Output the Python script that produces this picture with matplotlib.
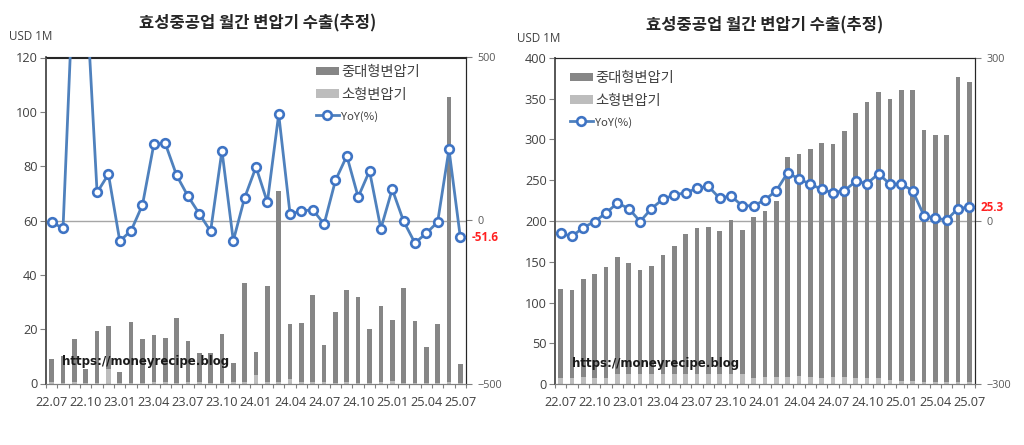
import matplotlib
matplotlib.use("Agg")
import matplotlib.pyplot as plt
import numpy as np

plt.rcParams['font.family'] = ['Noto Sans CJK KR', 'DejaVu Sans']

W, H = 1024, 445

# months 22.07 ~ 25.07
months = ['22.07', '22.08', '22.09', '22.10', '22.11', '22.12', '23.01', '23.02', '23.03', '23.04',
          '23.05', '23.06', '23.07', '23.08', '23.09', '23.10', '23.11', '23.12', '24.01', '24.02',
          '24.03', '24.04', '24.05', '24.06', '24.07', '24.08', '24.09', '24.10', '24.11', '24.12',
          '25.01', '25.02', '25.03', '25.04', '25.05', '25.06', '25.07']

# left chart: monthly export, total bar height and small transformer part
left_total = [9, 10, 16.5, 5.5, 19.5, 21.3, 4.3, 22.5, 16.5, 17.7, 16.8, 24, 15.5, 11.2, 11.2, 18.3, 7.7, 37, 11.7,
              36, 70.7, 22, 22.2, 32.5, 14, 26.3, 34.5, 32, 20, 28.5, 23.3, 35.3, 23, 13.5, 22, 105.5, 7]
left_small = [0.5, 0.3, 0.7, 0.3, 0.3, 5.5, 0.3, 0.3, 0.3, 0.7, 0.5, 0.3, 0.7, 0.7, 0.3, 0.3, 0.5, 0.5, 3,
              0.5, 0.5, 1.5, 0.5, 0.5, 0.5, 0.3, 0.5, 0.3, 0.3, 0.5, 1, 0.3, 0.3, 0.3, 0.3, 0.5, 0.3]
left_yoy = [-5, -24, 810, 727, 86, 142, -63, -31, 48, 234, 237, 139, 75, 21, -33, 214, -62, 70, 164,
            56, 326, 20, 29, 33, -11, 123, 198, 72, 152, -25, 96, -2, -69, -39, -5, 218, -51.6]

# right chart: trailing total
right_total = [117, 115, 129, 135, 144, 156, 149, 140, 145, 158, 169, 184, 191, 193, 188, 201, 189, 205, 212,
               225, 279, 282, 288, 296, 295, 310, 333, 346, 358, 350, 361, 361, 312, 305, 305, 377, 370]
right_small = [7, 7, 8, 7, 7, 12, 12, 12, 12, 12, 12, 12, 12, 12, 12, 12, 12, 7, 9,
               8, 8, 10, 8, 7, 8, 8, 7, 7, 7, 5, 4, 4, 3, 3, 3, 3, 3]
right_yoy = [-23, -28, -12, -1, 15, 33, 23, -1, 23, 40, 48, 52, 60, 64, 42, 46, 28, 28, 39,
             56, 89, 77, 68, 58, 52, 56, 73, 69, 87, 68, 68, 56, 10, 5, 2, 23, 25.3]

title = '효성중공업 월간 변압기 수출(추정)'
names = ['중대형변압기', '소형변압기', 'YoY(%)']
url = 'https://moneyrecipe.blog'

DARK = '#868686'
LIGHT = '#bdbdbd'
BLUE = '#4f81bd'
EDGE = '#3f74c4'
TEXT = '#404040'


def draw(box, total, small, yoy, ymax, ystep, y2max, grid_y, value_xy, legend_xy, url_xy, title_xy, usd_xy):
    x0, y0, x1, y1 = box
    ax = fig.add_axes([x0 / W, 1 - y1 / H, (x1 - x0) / W, (y1 - y0) / H])
    x = np.arange(len(months))
    total = np.array(total)
    small = np.array(small)

    ax.axhline(grid_y, color='#a6a6a6', lw=1, zorder=1)
    b1 = ax.bar(x, total - small, 0.41, bottom=small, color=DARK, zorder=2)
    b2 = ax.bar(x, small, 0.41, color=LIGHT, zorder=2)
    ax.set_xlim(-0.5, len(months) - 0.5)
    ax.set_ylim(0, ymax)
    ax.set_yticks(np.arange(0, ymax + 1, ystep))
    ax.set_xticks(x[::3])
    ax.set_xticklabels(months[::3])
    ax.set_xticks(np.arange(-0.5, len(months)), minor=True)
    ax.tick_params(axis='x', which='major', length=0, pad=9, labelsize=9.2, labelcolor=TEXT)
    ax.tick_params(axis='x', which='minor', length=3, width=0.8, color='#808080')
    ax.tick_params(axis='y', length=4, width=0.8, color='#808080', labelsize=9.2, labelcolor=TEXT, pad=2)
    for lab in ax.get_xticklabels() + ax.get_yticklabels():
        lab.set_family('Open Sans')

    ax2 = ax.twinx()
    ln, = ax2.plot(x, yoy, color=BLUE, lw=2, marker='o', ms=6.2, mfc='white', mec=EDGE, mew=1.9, zorder=3)
    ax2.set_ylim(-y2max, y2max)
    ax2.set_yticks([-y2max, 0, y2max])
    ax2.tick_params(axis='y', length=4, width=0.8, color='#808080', labelsize=7.8, labelcolor='#595959', pad=4)
    for lab in ax2.get_yticklabels():
        lab.set_family('Open Sans')

    for a in (ax, ax2):
        a.spines['top'].set_color('#262626')
        a.spines['right'].set_color('#262626')
        a.spines['left'].set_color('#595959')
        a.spines['left'].set_linewidth(1.3)
        a.spines['bottom'].set_color('#808080')

    leg = ax2.legend([b1, b2, ln], names, loc='upper left', frameon=False,
                     bbox_to_anchor=(legend_xy[0] / W, 1 - legend_xy[1] / H),
                     bbox_transform=fig.transFigure, fontsize=10.3, handlelength=1.6, handleheight=0.55,
                     handletextpad=0.15, labelspacing=0.62, borderpad=0, borderaxespad=0)
    leg.get_texts()[2].set_fontsize(8.2)
    for t in leg.get_texts():
        t.set_color(TEXT)

    lab = f'{yoy[-1]:.1f}'
    ax2.annotate(lab, (x[-1], yoy[-1]), xytext=value_xy, textcoords='offset pixels', color='#ff2020',
                 fontsize=8.4, fontweight='bold', family='Open Sans', va='center', ha='left',
                 annotation_clip=False)

    fig.text(url_xy[0] / W, 1 - url_xy[1] / H, url, family='DejaVu Sans', fontweight='bold', fontsize=8.5,
             color='#1a1a1a', va='center', ha='left', zorder=10)
    fig.text(title_xy[0] / W, 1 - title_xy[1] / H, title, fontsize=11.9, fontweight='bold', color='#262626',
             ha='center', va='center')
    fig.text(usd_xy[0] / W, 1 - usd_xy[1] / H, 'USD 1M', family='Open Sans', fontsize=8.4, color=TEXT,
             ha='left', va='center')


fig = plt.figure(figsize=(W / 100, H / 100), dpi=100, facecolor='white')

draw((46, 57.5, 466, 383.5), left_total, left_small, left_yoy, 120, 20, 500, 60,
     (11, 0), (316, 65), (62, 361), (257.5, 23), (9, 37))
draw((555, 58, 975, 384), right_total, right_small, right_yoy, 400, 50, 300, 200,
     (11, 0), (570, 71), (572, 364), (765, 25), (517, 38))

fig.savefig('out.png', dpi=100)
